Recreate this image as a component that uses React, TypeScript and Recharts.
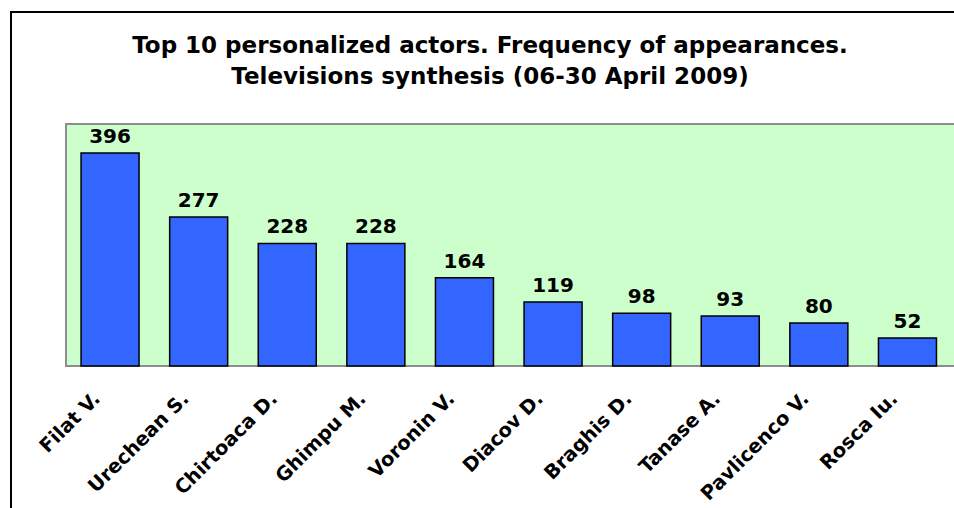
import { BarChart, Bar, XAxis, YAxis, LabelList, ReferenceArea } from 'recharts';

const actors = ['Filat V.', 'Urechean S.', 'Chirtoaca D.', 'Ghimpu M.', 'Voronin V.', 'Diacov D.', 'Braghis D.', 'Tanase A.', 'Pavlicenco V.', 'Rosca Iu.'];
const appearances = [396, 277, 228, 228, 164, 119, 98, 93, 80, 52];
const boundaryTicks = [0, 1, 2, 3, 4, 5, 6, 7, 8, 9, 10];

const titleLines = [
  'Top 10 personalized actors. Frequency of appearances.',
  'Televisions synthesis (06-30 April 2009)',
];

const FONT = '"DejaVu Sans", Verdana, sans-serif';

const data = actors.map((name, i) => ({ name, value: appearances[i] }));

function ActorTick(props: any) {
  const { x, y, payload } = props;
  return (
    <g transform={`translate(${x - 9},${y + 26})`}>
      <text
        textAnchor="end"
        transform="rotate(-45)"
        fontFamily={FONT}
        fontWeight="bold"
        fontSize={19.5}
        fill="#000"
      >
        {payload.value}
      </text>
    </g>
  );
}

export default function App() {
  return (
    <div style={{ position: 'absolute', left: 0, top: 0, width: 954, height: 508, overflow: 'hidden', background: '#fff' }}>
      {/* outer frame, runs off the right and bottom edges */}
      <div
        style={{
          position: 'absolute',
          left: 10,
          top: 11,
          width: 980,
          height: 540,
          border: '2px solid #000',
        }}
      />
      <div
        style={{
          position: 'absolute',
          left: 13,
          top: 30,
          width: 954,
          textAlign: 'center',
          fontFamily: FONT,
          fontWeight: 'bold',
          fontSize: 23,
          lineHeight: '31px',
          color: '#000',
        }}
      >
        {titleLines.map((t) => (
          <div key={t}>{t}</div>
        ))}
      </div>
      <div style={{ position: 'absolute', left: 0, top: 0 }}>
        <BarChart
          width={954}
          height={508}
          data={data}
          margin={{ top: 124, right: 2, bottom: 0, left: 66 }}
          barCategoryGap="17%"
        >
          <XAxis
            xAxisId="bounds"
            type="number"
            domain={[0, 10]}
            ticks={boundaryTicks}
            height={0}
            tickFormatter={() => ''}
            tickSize={5}
            tickLine={{ stroke: '#333', strokeWidth: 1.5 }}
            axisLine={{ stroke: '#333', strokeWidth: 1.5 }}
            allowDataOverflow
          />
          <XAxis
            dataKey="name"
            height={142}
            interval={0}
            tick={<ActorTick />}
            tickLine={false}
            axisLine={false}
          />
          <YAxis hide domain={[0, 450]} />
          <ReferenceArea
            xAxisId="bounds"
            x1={0}
            x2={10}
            y1={0}
            y2={450}
            fill="#CCFFCC"
            fillOpacity={1}
            stroke="#8c8c8c"
            strokeWidth={2}
            ifOverflow="extendDomain"
          />
          <Bar dataKey="value" fill="#3366FF" stroke="#000" strokeWidth={1.5} isAnimationActive={false}>
            <LabelList
              dataKey="value"
              position="top"
              offset={10}
              fontFamily={FONT}
              fontWeight="bold"
              fontSize={20}
              fill="#000"
            />
          </Bar>
        </BarChart>
      </div>
    </div>
  );
}
